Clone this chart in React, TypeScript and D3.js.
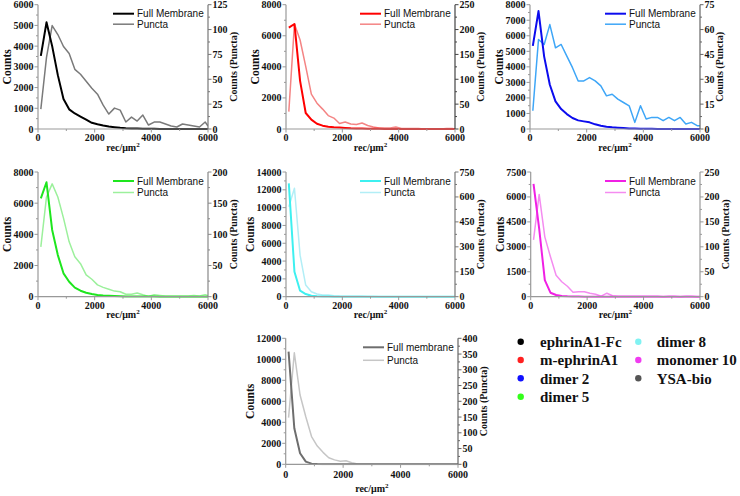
import React from 'react';
import * as d3 from 'd3';

// bin centres (rec/µm²)
const recDensity = [100, 300, 500, 700, 900, 1100, 1300, 1500, 1700, 1900, 2100, 2300, 2500, 2700, 2900, 3100, 3300, 3500, 3700, 3900, 4100, 4300, 4500, 4700, 4900, 5100, 5300, 5500, 5700, 5900, 6000];

const fullEphrinA1Fc = [3530, 5150, 4000, 2600, 1450, 950, 750, 600, 450, 300, 230, 170, 120, 90, 60, 40, 30, 20, 15, 10, 8, 5, 4, 3, 2, 2, 1, 1, 1, 0, 0];
const punctaEphrinA1Fc = [20, 72, 104, 95, 83, 76, 60, 55, 48, 41, 35, 24, 15, 21, 19, 7, 12, 8, 14, 4, 7, 7, 5, 3, 2, 5, 4, 3, 2, 7, 3];

const fullMEphrinA1 = [6525, 6760, 3100, 1030, 600, 340, 215, 150, 110, 90, 70, 50, 40, 30, 20, 15, 10, 8, 5, 4, 3, 2, 2, 1, 1, 1, 1, 0, 0, 0, 0];
const punctaMEphrinA1 = [35, 211, 179, 126, 70, 52, 40, 27, 22, 11, 14, 10, 9, 12, 7, 4, 2, 2, 2, 4, 1, 1, 1, 1, 0, 0, 0, 0, 1, 1, 0];

const fullDimer2 = [5350, 7590, 4660, 2845, 1775, 1280, 960, 705, 555, 490, 430, 300, 215, 150, 107, 80, 60, 40, 30, 20, 15, 10, 8, 6, 5, 4, 3, 2, 2, 1, 1];
const punctaDimer2 = [11, 54, 51, 63, 49, 51, 44, 37, 29, 29, 31, 29, 26, 20, 21, 18, 16, 14, 4, 14, 6, 7, 7, 5, 7, 5, 7, 3, 4, 2, 2];

const fullDimer5 = [6310, 7340, 4280, 2670, 1500, 960, 580, 385, 255, 170, 107, 75, 55, 40, 30, 20, 15, 10, 8, 6, 5, 4, 3, 2, 2, 1, 1, 1, 1, 0, 0];
const punctaDimer5 = [80, 160, 181, 160, 126, 88, 64, 53, 35, 28, 19, 15, 12, 9, 8, 4, 4, 6, 3, 0.5, 3, 2, 1, 1, 1, 1, 1, 2, 1, 3, 2];

const fullDimer8 = [12730, 2800, 670, 300, 110, 40, 20, 10, 6, 4, 3, 2, 1, 1, 1, 0, 0, 0, 0, 0, 0, 0, 0, 0, 0, 0, 0, 0, 0, 0, 0];
const punctaDimer8 = [541, 652, 250, 70, 30, 16, 10, 10, 6, 4, 3, 2, 2, 2, 1, 1, 0, 0, 0, 0, 0, 0, 0, 0, 0, 0, 0, 0, 0, 0, 0];

const fullMonomer10 = [6780, 4100, 1000, 240, 100, 40, 20, 10, 6, 4, 3, 2, 1, 1, 0, 0, 0, 0, 0, 0, 0, 0, 0, 0, 0, 0, 0, 0, 0, 0, 0];
const punctaMonomer10 = [114, 205, 120, 80, 43, 30, 21, 9, 10, 10, 7, 5, 1, 7, 2, 1, 1, 1, 1, 1, 1, 1, 1, 0, 1, 1, 0, 1, 1, 0, 0];

const fullYSA = [10730, 3430, 1050, 250, 60, 20, 10, 5, 3, 2, 1, 1, 0, 0, 0, 0, 0, 0, 0, 0, 0, 0, 0, 0, 0, 0, 0, 0, 0, 0, 0];
const punctaYSA = [148, 354, 220, 151, 88, 58, 38, 21, 14, 10, 11, 5, 1, 1, 1, 0, 0, 0, 0, 0, 0, 0, 0, 0, 0, 0, 0, 0, 0, 0, 0];

const xTicks = [0, 2000, 4000, 6000];
const xMinorTicks = [1000, 3000, 5000];

const legendNames = ['ephrinA1-Fc', 'm-ephrinA1', 'dimer 2', 'dimer 5', 'dimer 8', 'monomer 10', 'YSA-bio'];
const legendColors = ['#000000', '#ff2020', '#1010ff', '#33ff1a', '#80f2f2', '#f03cf0', '#555555'];

type PanelCfg = {
  full: number[]; puncta: number[]; fullColor: string; punctaColor: string;
  left: number; right: number; top: number; bottom: number;
  yMax: number; yStep: number; y2Max: number; y2Step: number;
  fullLabel: string; legendRow2: number; tickGap: number; xLabelGap: number; rightAxisColor: string;
};

const panels: PanelCfg[] = [
  { full: fullEphrinA1Fc, puncta: punctaEphrinA1Fc, fullColor: '#000000', punctaColor: '#7a7a7a', left: 38, right: 208, top: 4.7, bottom: 129, yMax: 6000, yStep: 1000, y2Max: 125, y2Step: 25, fullLabel: 'Full Membrane', legendRow2: 19.5, tickGap: 8.5, xLabelGap: 18, rightAxisColor: '#777' },
  { full: fullMEphrinA1, puncta: punctaMEphrinA1, fullColor: '#ff0000', punctaColor: '#f48484', left: 286, right: 455, top: 4.7, bottom: 129, yMax: 8000, yStep: 2000, y2Max: 250, y2Step: 50, fullLabel: 'Full Membrane', legendRow2: 19.5, tickGap: 8.5, xLabelGap: 18, rightAxisColor: '#444' },
  { full: fullDimer2, puncta: punctaDimer2, fullColor: '#0c0cee', punctaColor: '#3ea6f7', left: 530, right: 700, top: 4.7, bottom: 129, yMax: 8000, yStep: 1000, y2Max: 75, y2Step: 15, fullLabel: 'Full Membrane', legendRow2: 19.5, tickGap: 8.5, xLabelGap: 18, rightAxisColor: '#666' },
  { full: fullDimer5, puncta: punctaDimer5, fullColor: '#1ee61e', punctaColor: '#9cf09c', left: 38, right: 208, top: 172, bottom: 296.7, yMax: 8000, yStep: 2000, y2Max: 200, y2Step: 50, fullLabel: 'Full Membrane', legendRow2: 20.5, tickGap: 8.5, xLabelGap: 18, rightAxisColor: '#888' },
  { full: fullDimer8, puncta: punctaDimer8, fullColor: '#3ef0f0', punctaColor: '#b2eef6', left: 286, right: 455, top: 172, bottom: 296.7, yMax: 14000, yStep: 2000, y2Max: 750, y2Step: 150, fullLabel: 'Full Membrane', legendRow2: 20.5, tickGap: 8.5, xLabelGap: 18, rightAxisColor: '#777' },
  { full: fullMonomer10, puncta: punctaMonomer10, fullColor: '#f020e4', punctaColor: '#f48cf0', left: 530.7, right: 700, top: 172, bottom: 296.7, yMax: 7500, yStep: 1500, y2Max: 250, y2Step: 50, fullLabel: 'Full Membrane', legendRow2: 20.5, tickGap: 8.5, xLabelGap: 18, rightAxisColor: '#999' },
  { full: fullYSA, puncta: punctaYSA, fullColor: '#6e6e6e', punctaColor: '#c6c6c6', left: 285.7, right: 458, top: 338.3, bottom: 464.3, yMax: 12000, yStep: 2000, y2Max: 400, y2Step: 50, fullLabel: 'Full membrane', legendRow2: 22, tickGap: 10, xLabelGap: 24, rightAxisColor: '#666' },
];

const SERIF = '"Liberation Serif", "Times New Roman", serif';
const SANS = '"Liberation Sans", Arial, sans-serif';

function Panel({ p, idx }: { p: PanelCfg; idx: number }) {
  const x = d3.scaleLinear().domain([0, 6000]).range([p.left, p.right]);
  const y = d3.scaleLinear().domain([0, p.yMax]).range([p.bottom, p.top]);
  const y2 = d3.scaleLinear().domain([0, p.y2Max]).range([p.bottom, p.top]);
  const lineFull = d3.line<number>().x((_, i) => x(recDensity[i])).y((d) => y(d));
  const linePuncta = d3.line<number>().x((_, i) => x(recDensity[i])).y((d) => y2(d));
  const yTicks = d3.range(0, p.yMax + 1e-6, p.yStep);
  const y2Ticks = d3.range(0, p.y2Max + 1e-6, p.y2Step);
  const yMinor = yTicks.slice(0, -1).map((t) => t + p.yStep / 2);
  const y2Minor = y2Ticks.slice(0, -1).map((t) => t + p.y2Step / 2);
  const leftDigits = String(p.yMax).length;
  const rightDigits = String(p.y2Max).length;
  const midY = (p.top + p.bottom) / 2;
  const clipId = `clip${idx}`;
  const axisColor = '#999';
  const lx1 = p.right - 95, lx2 = p.right - 74, tx = p.right - 71;
  const r1 = p.top + 9, r2 = p.top + p.legendRow2;
  return (
    <g>
      <defs>
        <clipPath id={clipId}>
          <rect x={p.left} y={p.top - 2} width={p.right - p.left} height={p.bottom - p.top + 3} />
        </clipPath>
      </defs>
      <g clipPath={`url(#${clipId})`} fill="none" strokeLinejoin="round">
        <path d={linePuncta(p.puncta) || ''} stroke={p.punctaColor} strokeWidth={1.5} />
        <path d={lineFull(p.full) || ''} stroke={p.fullColor} strokeWidth={2} />
      </g>
      {/* axes */}
      <line x1={p.left} x2={p.left} y1={p.top} y2={p.bottom} stroke={axisColor} strokeWidth={1.2} />
      <line x1={p.left} x2={p.right} y1={p.bottom} y2={p.bottom} stroke={axisColor} strokeWidth={1.2} />
      <line x1={p.right} x2={p.right} y1={p.top} y2={p.bottom} stroke={p.rightAxisColor} strokeWidth={1.2} />
      {yTicks.map((t) => (
        <g key={'yl' + t}>
          <line x1={p.left - 3.5} x2={p.left} y1={y(t)} y2={y(t)} stroke={axisColor} />
          <text x={p.left - 4.5} y={y(t)} dy="0.35em" textAnchor="end" fontFamily={SERIF} fontWeight="bold" fontSize={10} fill="#111">{t}</text>
        </g>
      ))}
      {yMinor.map((t) => (
        <line key={'ym' + t} x1={p.left - 2} x2={p.left} y1={y(t)} y2={y(t)} stroke={axisColor} />
      ))}
      {y2Ticks.map((t) => (
        <g key={'yr' + t}>
          <line x1={p.right} x2={p.right + 3.5} y1={y2(t)} y2={y2(t)} stroke={p.rightAxisColor} />
          <text x={p.right + 4.5} y={y2(t)} dy="0.35em" textAnchor="start" fontFamily={SERIF} fontWeight="bold" fontSize={10} fill="#111">{t}</text>
        </g>
      ))}
      {y2Minor.map((t) => (
        <line key={'y2m' + t} x1={p.right} x2={p.right + 2} y1={y2(t)} y2={y2(t)} stroke={p.rightAxisColor} />
      ))}
      {xTicks.map((t) => (
        <g key={'x' + t}>
          <line x1={x(t)} x2={x(t)} y1={p.bottom} y2={p.bottom + 3.5} stroke={axisColor} />
          <text x={x(t)} y={p.bottom + p.tickGap} dy="0.35em" textAnchor="middle" fontFamily={SERIF} fontWeight="bold" fontSize={10} fill="#111">{t}</text>
        </g>
      ))}
      {xMinorTicks.map((t) => (
        <line key={'xm' + t} x1={x(t)} x2={x(t)} y1={p.bottom} y2={p.bottom + 2} stroke={axisColor} />
      ))}
      {/* axis titles */}
      <text transform={`translate(${p.left - (9 + leftDigits * 5.4)},${midY}) rotate(-90)`} textAnchor="middle" dy="0.35em" fontFamily={SERIF} fontWeight="bold" fontSize={11.5} fill="#111">Counts</text>
      <text transform={`translate(${p.right + (9 + rightDigits * 5.4)},${midY}) rotate(-90)`} textAnchor="middle" dy="0.35em" fontFamily={SERIF} fontWeight="bold" fontSize={10} fill="#111">Counts (Puncta)</text>
      <text x={(p.left + p.right) / 2} y={p.bottom + p.xLabelGap} dy="0.35em" textAnchor="middle" fontFamily={SERIF} fontWeight="bold" fontSize={10} fill="#111">
        rec/μm<tspan dy="-4" fontSize={7}>2</tspan>
      </text>
      {/* legend */}
      <line x1={lx1} x2={lx2} y1={r1} y2={r1} stroke={p.fullColor} strokeWidth={2} />
      <text x={tx} y={r1} dy="0.35em" fontFamily={SANS} fontSize={10} fill="#111">{p.fullLabel}</text>
      <line x1={lx1} x2={lx2} y1={r2} y2={r2} stroke={p.punctaColor} strokeWidth={1.5} />
      <text x={tx} y={r2} dy="0.35em" fontFamily={SANS} fontSize={10} fill="#111">Puncta</text>
    </g>
  );
}

export default function App() {
  const colX = [520.7, 638.3];
  const textX = [540, 656.7];
  const rowY = [341.7, 360, 378.3, 396.7];
  return (
    <svg width={740} height={496} style={{ position: 'absolute', left: 0, top: 0, background: '#fff' }}>
      <rect width={740} height={496} fill="#fff" />
      {panels.map((p, i) => (
        <Panel key={i} p={p} idx={i} />
      ))}
      {legendNames.map((name, i) => {
        const col = i < 4 ? 0 : 1;
        const row = i < 4 ? i : i - 4;
        return (
          <g key={name}>
            <circle cx={colX[col]} cy={rowY[row]} r={3.2} fill={legendColors[i]} />
            <text x={textX[col]} y={rowY[row]} dy="0.35em" fontFamily={SERIF} fontWeight="bold" fontSize={15} fill="#111">{name}</text>
          </g>
        );
      })}
    </svg>
  );
}
